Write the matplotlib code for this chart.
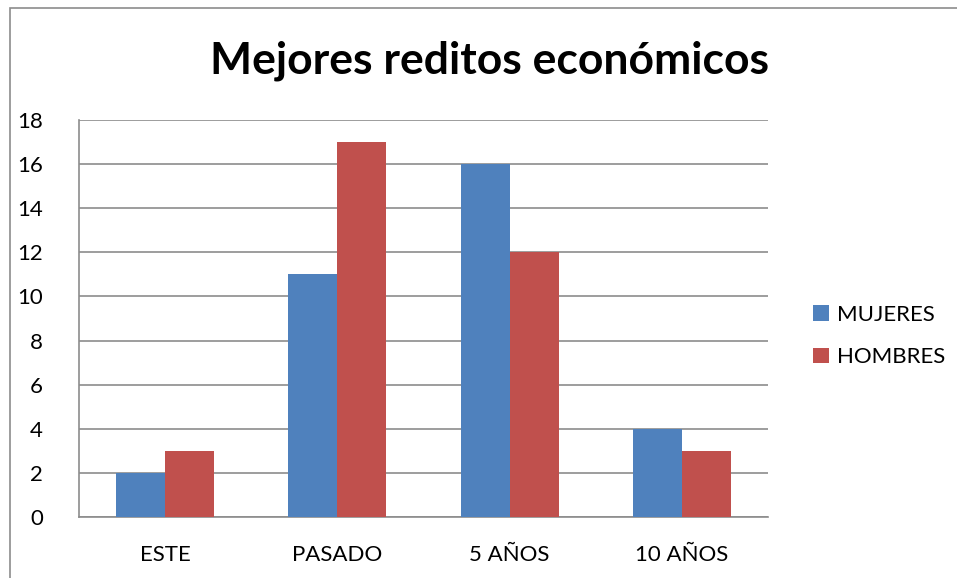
import matplotlib.pyplot as plt
import numpy as np
from matplotlib.patches import Rectangle

categorias = ['ESTE', 'PASADO', '5 AÑOS', '10 AÑOS']
mujeres = [2, 11, 16, 4]
hombres = [3, 17, 12, 3]

plt.rcParams['font.family'] = ['Lato', 'DejaVu Sans']

fig = plt.figure(figsize=(9.57, 5.78), dpi=100)
W, H = 957, 578
ax = fig.add_axes([79 / W, 1 - 517 / H, (768 - 79) / W, (517 - 120) / H])

# borde del grafico
fig.patches.append(Rectangle((10 / W, -0.05), 1.1, 1 - 8 / H + 0.05, transform=fig.transFigure,
                             fill=False, edgecolor='#8c8c8c', linewidth=1.2))

x = np.arange(len(categorias))
w = 0.285
ax.bar(x - w / 2, mujeres, w, color='#4F81BD', label='MUJERES', zorder=3)
ax.bar(x + w / 2, hombres, w, color='#C0504D', label='HOMBRES', zorder=3)

ax.set_xlim(-0.5, 3.5)
ax.set_ylim(0, 18)
ax.set_yticks(range(0, 19, 2))
ax.set_xticks(x)
ax.set_xticklabels(categorias)
ax.yaxis.grid(True, color='#8c8c8c', linewidth=1.2, zorder=0)
ax.tick_params(axis='both', length=0, labelsize=16, colors='black')
ax.tick_params(axis='y', pad=26)
ax.tick_params(axis='x', pad=20)
for s in ['top', 'right']:
    ax.spines[s].set_visible(False)
ax.spines['left'].set_color('#8c8c8c')
ax.spines['bottom'].set_color('#8c8c8c')
ax.spines['left'].set_linewidth(1.2)
ax.spines['bottom'].set_linewidth(1.2)

fig.text(490 / W, 1 - 61 / H, 'Mejores reditos económicos', ha='center', va='center',
         fontsize=32, fontweight='bold')

leg = fig.legend(loc='center left', bbox_to_anchor=(793 / W, 1 - 336 / H), frameon=False,
                 fontsize=16, handlelength=0.7, handleheight=0.7, handletextpad=0.4,
                 labelspacing=1.0)

plt.savefig('out.png')
